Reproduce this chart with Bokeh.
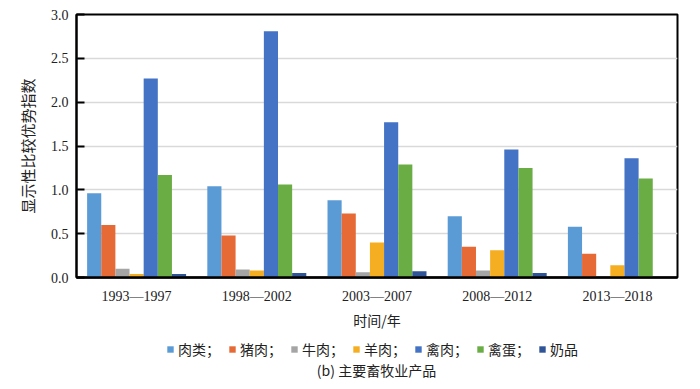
from bokeh.plotting import figure
from bokeh.layouts import column
from bokeh.models import FactorRange, Range1d, Legend, LegendItem, Label, FixedTicker, ColumnDataSource, NumeralTickFormatter
from bokeh.transform import dodge
from bokeh.embed import file_html
from bokeh.resources import INLINE

periods = ["1993—1997", "1998—2002", "2003—2007", "2008—2012", "2013—2018"]
products = ["肉类", "猪肉", "牛肉", "羊肉", "禽肉", "禽蛋", "奶品"]
meat = [0.96, 1.04, 0.88, 0.70, 0.58]
pork = [0.60, 0.48, 0.73, 0.35, 0.27]
beef = [0.10, 0.09, 0.06, 0.08, 0.005]
mutton = [0.04, 0.08, 0.40, 0.31, 0.14]
poultry = [2.27, 2.81, 1.77, 1.46, 1.36]
eggs = [1.17, 1.06, 1.29, 1.25, 1.13]
dairy = [0.04, 0.05, 0.07, 0.05, 0.0]
colors = ["#5B9BD5", "#E66A35", "#A5A5A5", "#F5AE22", "#4472C4", "#6AAD45", "#2F5597"]
yticks = [0.0, 0.5, 1.0, 1.5, 2.0, 2.5, 3.0]
caption = "(b) 主要畜牧业产品"

series = [meat, pork, beef, mutton, poultry, eggs, dairy]
data = {"period": periods}
for name, vals in zip(products, series):
    data[name] = vals
source = ColumnDataSource(data)

SERIF = "Liberation Serif"
CJK = "Noto Sans CJK SC"
TXT = "#222222"

p = figure(width=700, height=335, x_range=FactorRange(factors=periods, range_padding=0),
           y_range=Range1d(0, 3), output_backend="svg", toolbar_location=None,
           min_border_left=76, min_border_right=23, min_border_top=14, min_border_bottom=58)

bw = 1.0 / 8.5
for i, name in enumerate(products):
    p.vbar(x=dodge("period", (i - 3) * bw, range=p.x_range), top=name, width=bw,
           source=source, fill_color=colors[i], line_color=None)

p.outline_line_color = "black"
p.outline_line_width = 2
p.xgrid.grid_line_color = None
p.ygrid.grid_line_color = "#D9D9D9"
p.ygrid.grid_line_width = 1.5
p.ygrid.ticker = FixedTicker(ticks=yticks)

p.yaxis.ticker = FixedTicker(ticks=yticks)
p.yaxis.formatter = NumeralTickFormatter(format="0.0")
p.yaxis.major_tick_in = 8
p.yaxis.major_tick_out = 0
p.yaxis.minor_tick_line_color = None
p.yaxis.axis_line_width = 2
p.yaxis.major_tick_line_width = 2
p.yaxis.major_label_text_font = SERIF
p.yaxis.major_label_text_font_size = "14px"
p.yaxis.major_label_text_color = TXT
p.yaxis.major_label_standoff = 8
p.yaxis.axis_label = "显示性比较优势指数"
p.yaxis.axis_label_text_font = CJK
p.yaxis.axis_label_text_font_size = "15px"
p.yaxis.axis_label_text_font_style = "normal"
p.yaxis.axis_label_text_color = TXT
p.yaxis.axis_label_standoff = 10

p.xaxis.major_tick_line_color = None
p.xaxis.minor_tick_line_color = None
p.xaxis.axis_line_width = 2.5
p.xaxis.major_label_text_font = SERIF
p.xaxis.major_label_text_font_size = "14px"
p.xaxis.major_label_text_color = TXT
p.xaxis.major_label_standoff = 5
p.xaxis.axis_label = "时间/年"
p.xaxis.axis_label_text_font = CJK
p.xaxis.axis_label_text_font_size = "14px"
p.xaxis.axis_label_text_font_style = "normal"
p.xaxis.axis_label_text_color = TXT
p.xaxis.axis_label_standoff = 3

# legend + caption strip (same data, drawn out of view so only the legend shows)
p2 = figure(width=700, height=54, x_range=FactorRange(factors=periods, range_padding=0),
            y_range=Range1d(10, 11),
            output_backend="svg", toolbar_location=None, x_axis_type=None, y_axis_type=None,
            min_border=0, min_border_left=0, min_border_right=0, min_border_top=0, min_border_bottom=0)
p2.outline_line_color = None
p2.xgrid.grid_line_color = None
p2.ygrid.grid_line_color = None
items = []
for i, name in enumerate(products):
    r = p2.vbar(x=dodge("period", (i - 3) * bw, range=p2.x_range), top=name, width=bw,
                source=source, fill_color=colors[i], line_color=None)
    items.append(LegendItem(label=name + ("；" if i < len(products) - 1 else ""), renderers=[r]))
legend = Legend(items=items, orientation="horizontal", location=(90, 30),
                label_text_font=CJK, label_text_font_size="14px", label_text_color=TXT,
                glyph_width=8, glyph_height=8, label_standoff=4, spacing=8,
                padding=2, margin=0, border_line_color=None, background_fill_alpha=0)
p2.add_layout(legend)
p2.add_layout(Label(x=300, y=20, x_units="screen", y_units="screen", text=caption,
                    text_align="center", text_baseline="middle", text_font=CJK,
                    text_font_size="14px", text_color=TXT))

layout = column(p, p2, spacing=0)
open("out.html", "w").write(file_html(layout, INLINE))
